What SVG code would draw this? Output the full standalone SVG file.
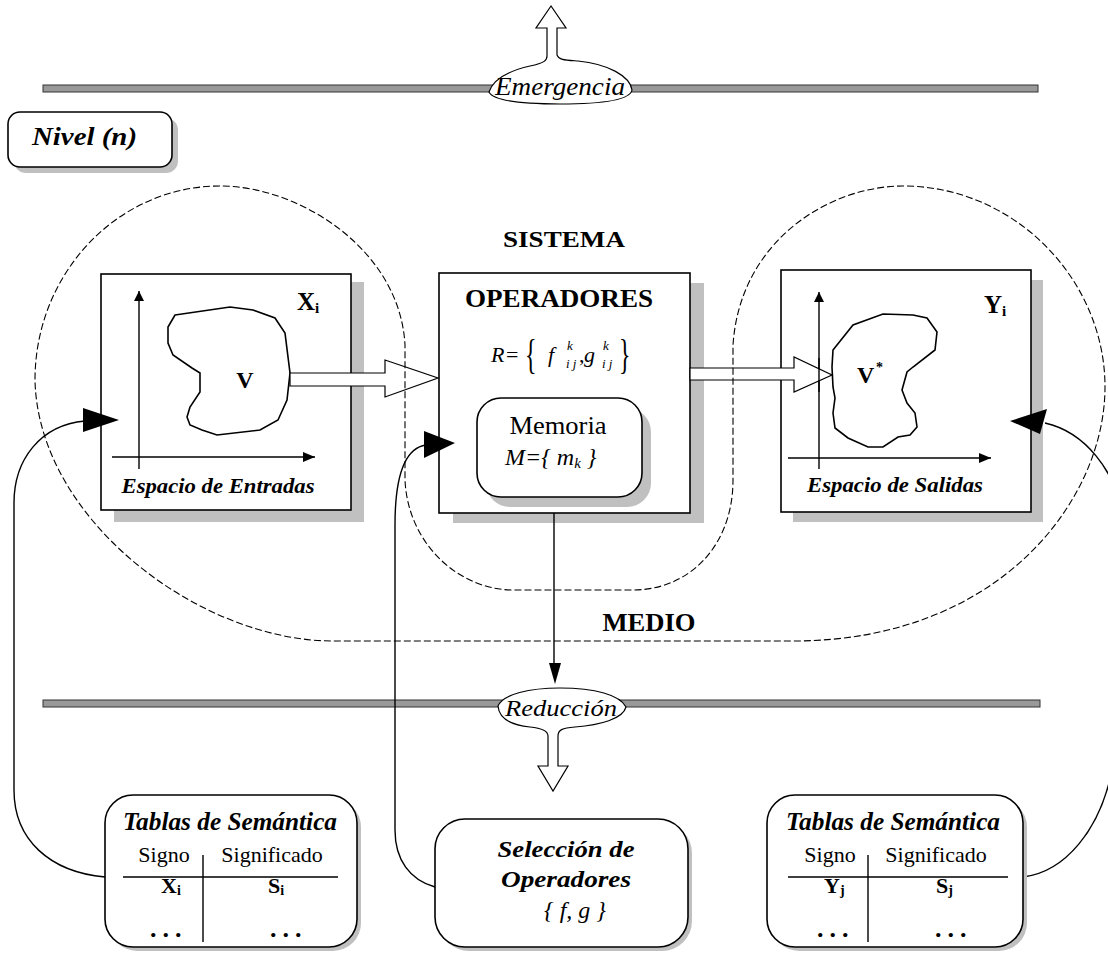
<svg xmlns="http://www.w3.org/2000/svg" width="1108" height="956" viewBox="0 0 1108 956">
<defs>
<style>
.b{font-weight:bold}
.i{font-style:italic}
.bi{font-weight:bold;font-style:italic}
.box{fill:#fff;stroke:#000;stroke-width:1.6}
.sh{fill:#c0c0c0}
.bar{fill:#999;stroke:#333;stroke-width:1}
.ln{fill:none;stroke:#000;stroke-width:1.4}
.hol{fill:#fff;stroke:#000;stroke-width:1.2}
.dash{fill:none;stroke:#000;stroke-width:1.1;stroke-dasharray:7 3}
.head{fill:#000}
</style>
<marker id="ax" viewBox="0 0 10 10" refX="10" refY="5" markerWidth="10" markerHeight="10" markerUnits="userSpaceOnUse" orient="auto"><path d="M0,0 L10,5 L0,10 Z" fill="#000"/></marker>
<marker id="ax2" viewBox="0 0 12 10" refX="12" refY="5" markerWidth="12" markerHeight="10" markerUnits="userSpaceOnUse" orient="auto"><path d="M0,0 L12,5 L0,10 Z" fill="#000"/></marker>
</defs>

<!-- level bars -->
<g id="bar-top"><rect class="bar" x="43" y="85" width="995" height="7"/></g>
<g id="bar-bottom"><rect class="bar" x="43" y="700" width="997" height="7"/></g>

<g id="emergencia">
<path class="hol" d="M547,56 L547,28 L536,28 L551,6 L566,28 L557,28 L557,55 C559,60 565,60 578,61 C608,64 630,76 632,90 C630,100 600,104 560,104 C520,104 493,100 489,92 C493,80 508,71 530,66 C545,63 547,60 547,56 Z"/>
<text font-family="Liberation Serif" class="i" x="560" y="95" font-size="26" text-anchor="middle" textLength="130" lengthAdjust="spacingAndGlyphs">Emergencia</text>
</g>

<g id="reduccion">
<path class="hol" d="M498,706 C503,694 530,688 560,688 C595,688 620,695 626,707 C623,719 600,725 575,727 C562,728 558,730 558,736 L558,766 L568,766 L553,791 L538,766 L548,766 L548,736 C548,730 540,728 530,727 C510,725 499,718 498,706 Z"/>
<text font-family="Liberation Serif" class="i" x="561" y="716" font-size="24" text-anchor="middle" textLength="112" lengthAdjust="spacingAndGlyphs">Reducción</text>
</g>

<g id="nivel">
<rect class="sh" x="14" y="118" width="164" height="55" rx="12"/>
<rect class="box" x="8" y="112" width="164" height="55" rx="12"/>
<text font-family="Liberation Serif" class="bi" x="32" y="145" font-size="25" textLength="105" lengthAdjust="spacingAndGlyphs">Nivel  (n)</text>
</g>

<g id="labels">
<text font-family="Liberation Serif" class="b" x="564" y="247" font-size="24" text-anchor="middle" textLength="122" lengthAdjust="spacingAndGlyphs">SISTEMA</text>
<text font-family="Liberation Serif" class="b" x="649" y="631" font-size="26" text-anchor="middle" textLength="93" lengthAdjust="spacingAndGlyphs">MEDIO</text>
</g>

<!-- input space -->
<g id="entradas">
<rect class="sh" x="114" y="282" width="250" height="240"/>
<rect class="box" x="101" y="274" width="250" height="236"/>
<path class="ln" d="M139,469 L139,291" marker-end="url(#ax)"/>
<path class="ln" d="M112,457 L315,457" marker-end="url(#ax2)"/>
<path fill="#fff" stroke="#000" stroke-width="1.6" d="M175,315 L230,307 L253,310 L275,318 L285,333 L290,373 L287,400 L278,420 L260,430 L217,435 L202,430 L190,425 L187,417 L190,407 L200,392 L200,373 L192,368 L173,355 L168,343 L168,327 Z"/>
<text font-family="Liberation Serif" class="b" x="245" y="388" font-size="24" text-anchor="middle">V</text>
<text font-family="Liberation Serif" class="b" x="297" y="310" font-size="25">X<tspan font-size="15" dy="3">i</tspan></text>
<text font-family="Liberation Serif" class="bi" x="218" y="493" font-size="22" text-anchor="middle" textLength="193" lengthAdjust="spacingAndGlyphs">Espacio de Entradas</text>
</g>

<!-- operators -->
<g id="operadores">
<rect class="sh" x="453" y="283" width="251" height="240"/>
<rect class="box" x="439" y="273" width="251" height="240"/>
<text font-family="Liberation Serif" class="b" x="559" y="307" font-size="25" text-anchor="middle" textLength="188" lengthAdjust="spacingAndGlyphs">OPERADORES</text>
<text font-family="Liberation Serif" class="i" x="491" y="362" font-size="22">R</text>
<text font-family="Liberation Serif" x="506" y="362" font-size="22">=</text>
<text font-family="Liberation Serif" transform="translate(525,368) scale(1,1.75)" font-size="24">{</text>
<text font-family="Liberation Serif" class="i" x="548" y="362" font-size="22">f</text>
<text font-family="Liberation Serif" class="i" x="567" y="350" font-size="13">k</text>
<text font-family="Liberation Serif" class="i" x="566" y="368" font-size="13">i j</text>
<text font-family="Liberation Serif" x="579" y="362" font-size="22">,</text>
<text font-family="Liberation Serif" class="i" x="584" y="362" font-size="22">g</text>
<text font-family="Liberation Serif" class="i" x="603" y="350" font-size="13">k</text>
<text font-family="Liberation Serif" class="i" x="602" y="368" font-size="13">i j</text>
<text font-family="Liberation Serif" transform="translate(619,368) scale(1,1.75)" font-size="24">}</text>
<g id="memoria">
<rect class="sh" x="486" y="408" width="165" height="99" rx="24"/>
<rect class="box" x="477" y="398" width="165" height="99" rx="24"/>
<text font-family="Liberation Serif" x="558" y="434" font-size="26" text-anchor="middle" textLength="97" lengthAdjust="spacingAndGlyphs">Memoria</text>
<text font-family="Liberation Serif" class="i" x="505" y="465" font-size="24">M={ m<tspan font-size="15" dy="3">k</tspan><tspan dy="-3"> }</tspan></text>
</g>
</g>

<!-- output space -->
<g id="salidas">
<rect class="sh" x="793" y="280" width="250" height="242"/>
<rect class="box" x="781" y="270" width="250" height="242"/>
<path class="ln" d="M819,469 L819,292" marker-end="url(#ax)"/>
<path class="ln" d="M788,458 L991,458" marker-end="url(#ax2)"/>
<path fill="#fff" stroke="#000" stroke-width="1.6" d="M833,350 L853,325 L883,314 L913,315 L927,318 L937,332 L935,350 L913,367 L907,372 L902,390 L907,403 L915,413 L917,427 L910,435 L898,437 L883,447 L868,447 L848,438 L835,428 L833,413 L835,398 L833,387 L832,367 Z"/>
<text font-family="Liberation Serif" class="b" x="857" y="383" font-size="24">V</text>
<text font-family="Liberation Serif" class="b" x="876" y="372" font-size="14">*</text>
<text font-family="Liberation Serif" class="b" x="984" y="313" font-size="25">Y<tspan font-size="15" dy="3">i</tspan></text>
<text font-family="Liberation Serif" class="bi" x="895" y="492" font-size="22" text-anchor="middle" textLength="176" lengthAdjust="spacingAndGlyphs">Espacio de Salidas</text>
</g>

<!-- hollow flow arrows -->
<g id="flows">
<path class="hol" d="M290,373 L385,373 L385,360 L438,378 L385,397 L385,386 L290,386 Z"/>
<path class="hol" d="M690,368 L794,368 L794,357 L832,375 L794,392 L794,380 L690,380 Z"/>
<path class="ln" d="M819,392 L819,358"/>
</g>

<!-- dashed boundary -->
<g id="boundary">
<path class="dash" d="M220,186 C118,186 35,273 35,380 C38,520 200,641 333,641 L793,641 C1000,641 1105,500 1105,387 C1105,280 1015,186 903,186 C830,186 740,240 733,345 L733,480 C733,545 690,590 633,590 L513,590 C460,590 408,545 405,480 L405,345 C400,250 300,186 220,186 Z"/>
</g>

<!-- connectors -->
<g id="connectors">
<path class="ln" d="M554,513 L554,665"/>
<polygon class="head" points="549,663 561,663 555,684"/>
<path class="ln" d="M105,877 C50,872 14,840 14,790 L14,503 C14,460 40,425 85,421"/>
<polygon class="head" points="119,420 83,408 83,432"/>
<path class="ln" d="M435,887 C410,880 395,860 395,830 L395,525 C395,475 405,448 426,445"/>
<polygon class="head" points="455,443 424,431 424,458"/>
<path class="ln" d="M1023,877 C1065,872 1100,830 1112,770 L1125,520 C1115,470 1085,432 1045,423"/>
<polygon class="head" points="1010,421 1047,409 1040,434"/>
</g>

<!-- semantic table left -->
<g id="tabla-x">
<rect class="sh" x="109" y="799" width="252" height="152" rx="28"/>
<rect class="box" x="105" y="795" width="252" height="152" rx="28"/>
<text font-family="Liberation Serif" class="bi" x="230" y="830" font-size="25" text-anchor="middle" textLength="214" lengthAdjust="spacingAndGlyphs">Tablas de Semántica</text>
<text font-family="Liberation Serif" x="164" y="862" font-size="22" text-anchor="middle">Signo</text>
<text font-family="Liberation Serif" x="272" y="862" font-size="22" text-anchor="middle">Significado</text>
<path class="ln" d="M123,877 L338,877 M203,855 L203,942"/>
<text font-family="Liberation Serif" class="b" x="161" y="893" font-size="22">X<tspan font-size="14" dy="2">i</tspan></text>
<text font-family="Liberation Serif" class="b" x="268" y="893" font-size="22">S<tspan font-size="14" dy="2">i</tspan></text>
<text font-family="Liberation Serif" class="b" x="150" y="937" font-size="26" letter-spacing="6">...</text>
<text font-family="Liberation Serif" class="b" x="270" y="937" font-size="26" letter-spacing="6">...</text>
</g>

<!-- operator selection -->
<g id="seleccion">
<rect class="sh" x="439" y="823" width="253" height="128" rx="30"/>
<rect class="box" x="435" y="819" width="253" height="128" rx="30"/>
<text font-family="Liberation Serif" class="bi" x="566" y="857" font-size="24" text-anchor="middle" textLength="137" lengthAdjust="spacingAndGlyphs">Selección de</text>
<text font-family="Liberation Serif" class="bi" x="566" y="887" font-size="24" text-anchor="middle" textLength="130" lengthAdjust="spacingAndGlyphs">Operadores</text>
<text font-family="Liberation Serif" class="i" x="575" y="918" font-size="24" text-anchor="middle">{ f, g }</text>
</g>

<!-- semantic table right -->
<g id="tabla-y">
<rect class="sh" x="771" y="799" width="256" height="152" rx="28"/>
<rect class="box" x="767" y="795" width="256" height="152" rx="28"/>
<text font-family="Liberation Serif" class="bi" x="893" y="830" font-size="25" text-anchor="middle" textLength="214" lengthAdjust="spacingAndGlyphs">Tablas de Semántica</text>
<text font-family="Liberation Serif" x="830" y="862" font-size="22" text-anchor="middle">Signo</text>
<text font-family="Liberation Serif" x="936" y="862" font-size="22" text-anchor="middle">Significado</text>
<path class="ln" d="M788,877 L1008,877 M868,855 L868,942"/>
<text font-family="Liberation Serif" class="b" x="824" y="893" font-size="22">Y<tspan font-size="14" dy="2">j</tspan></text>
<text font-family="Liberation Serif" class="b" x="936" y="893" font-size="22">S<tspan font-size="14" dy="2">j</tspan></text>
<text font-family="Liberation Serif" class="b" x="817" y="937" font-size="26" letter-spacing="6">...</text>
<text font-family="Liberation Serif" class="b" x="935" y="937" font-size="26" letter-spacing="6">...</text>
</g>
</svg>
